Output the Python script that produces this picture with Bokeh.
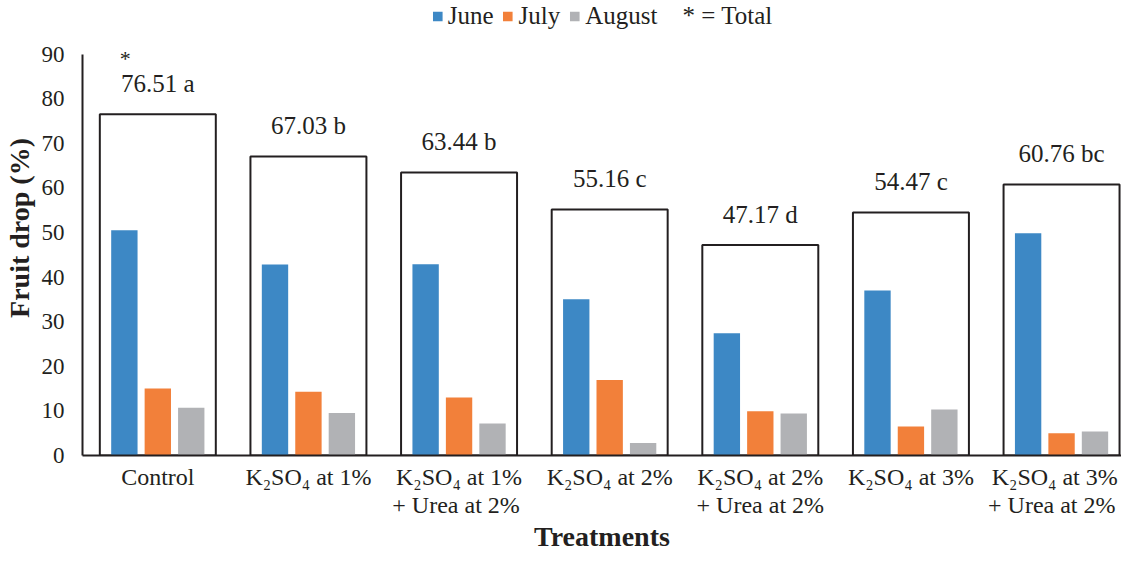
from bokeh.plotting import figure
from bokeh.models import (ColumnDataSource, Legend, LegendItem, FixedTicker,
                          Range1d, CustomJSTickFormatter)
from bokeh.core.properties import value
from bokeh.transform import dodge
from bokeh.embed import file_html
from bokeh.resources import INLINE

# ---- data ----
treatments = ["Control", "K\u2082SO\u2084 at 1%", "K\u2082SO\u2084 at 1%\n+ Urea  at 2%",
              "K\u2082SO\u2084 at 2%", "K\u2082SO\u2084 at 2%\n+ Urea at 2%",
              "K\u2082SO\u2084 at 3%", "K\u2082SO\u2084 at 3%\n+  Urea at 2%"]
june = [50.5, 42.8, 42.9, 35.0, 27.4, 37.0, 49.8]
july = [15.0, 14.3, 13.0, 16.9, 9.9, 6.5, 5.0]
august = [10.7, 9.5, 7.2, 2.8, 9.4, 10.3, 5.4]
total = [76.51, 67.03, 63.44, 55.16, 47.17, 54.47, 60.76]
letters = ["a", "b", "b", "c", "d", "c", "bc"]
stars = ["*", "", "", "", "", "", ""]
y_ticks = [0, 10, 20, 30, 40, 50, 60, 70, 80, 90]

# ---- styles ----
C_JUNE = "#3D88C5"
C_JULY = "#F2803A"
C_AUG = "#B1B2B5"
INK = "#231F20"
FONT = "Liberation Serif"

pos = [i + 0.5 for i in range(len(treatments))]
labels = ["%.2f %s" % (t, l) for t, l in zip(total, letters)]
src = ColumnDataSource(dict(x=pos, june=june, july=july, august=august,
                            total=total, label=labels, star=stars))

p = figure(width=1121, height=556, output_backend="svg", toolbar_location=None,
           x_range=Range1d(0, 6.898), y_range=Range1d(0, 102.0),
           min_border_left=76, min_border_right=0, min_border_top=0,
           min_border_bottom=101, outline_line_color=None,
           background_fill_color="white", border_fill_color="white")
p.grid.visible = False

# total boxes
p.vbar(x="x", top="total", width=0.77, source=src, fill_color=None,
       line_color=INK, line_width=2)

# monthly bars
off = 0.222
bw = 0.175
r_june = p.vbar(x=dodge("x", -off), top="june", width=bw, source=src,
                fill_color=C_JUNE, line_color=None)
r_july = p.vbar(x=dodge("x", 0), top="july", width=bw, source=src,
                fill_color=C_JULY, line_color=None)
r_aug = p.vbar(x=dodge("x", off), top="august", width=bw, source=src,
               fill_color=C_AUG, line_color=None)

# total labels
p.text(x="x", y="total", text="label", source=src, y_offset=-31,
       text_align="center", text_baseline="middle",
       text_font=value(FONT), text_font_size="25px", text_color=INK)
p.text(x="x", y="total", text="star", source=src, y_offset=-56, x_offset=-38,
       text_align="left", text_baseline="middle",
       text_font=value(FONT), text_font_size="22px", text_color=INK)

# invisible renderer for the "* = Total" legend entry
r_tot = p.vbar(x="x", top="total", width=0.0, source=src,
               fill_alpha=0, line_alpha=0)

legend = Legend(items=[LegendItem(label="June", renderers=[r_june]),
                       LegendItem(label="July", renderers=[r_july]),
                       LegendItem(label="August", renderers=[r_aug]),
                       LegendItem(label="* = Total", renderers=[r_tot])],
                location="top_center", orientation="horizontal",
                glyph_width=12, glyph_height=12, label_standoff=5, spacing=8,
                padding=2, margin=0, border_line_alpha=0,
                background_fill_alpha=0, label_text_font=FONT,
                label_text_font_size="25px", label_text_color=INK,
                label_height=24)
p.add_layout(legend)

# axes
p.yaxis.bounds = (0, 90)
p.yaxis.ticker = FixedTicker(ticks=y_ticks)
p.yaxis.axis_label = "Fruit drop (%)"
p.xaxis.ticker = FixedTicker(ticks=pos)
p.xaxis.formatter = CustomJSTickFormatter(args=dict(labels=treatments),
                                          code="return labels[Math.round(tick - 0.5)];")
p.xaxis.axis_label = "Treatments"
for ax in (p.xaxis, p.yaxis):
    ax.major_tick_out = 0
    ax.major_tick_in = 0
    ax.minor_tick_out = 0
    ax.minor_tick_in = 0
    ax.axis_line_color = INK
    ax.axis_line_width = 2
    ax.major_label_text_font = FONT
    ax.major_label_text_color = INK
    ax.axis_label_text_font = FONT
    ax.axis_label_text_font_size = "28px"
    ax.axis_label_text_font_style = "bold"
    ax.axis_label_text_color = INK
p.yaxis.major_label_text_font_size = "23px"
p.xaxis.major_label_text_font_size = "24px"
p.xaxis.major_label_text_line_height = 1.1
p.yaxis.major_label_standoff = 18
p.yaxis.axis_label_standoff = 4
p.xaxis.major_label_standoff = 8
p.xaxis.axis_label_standoff = 0

open("out.html", "w").write(file_html(p, INLINE))
